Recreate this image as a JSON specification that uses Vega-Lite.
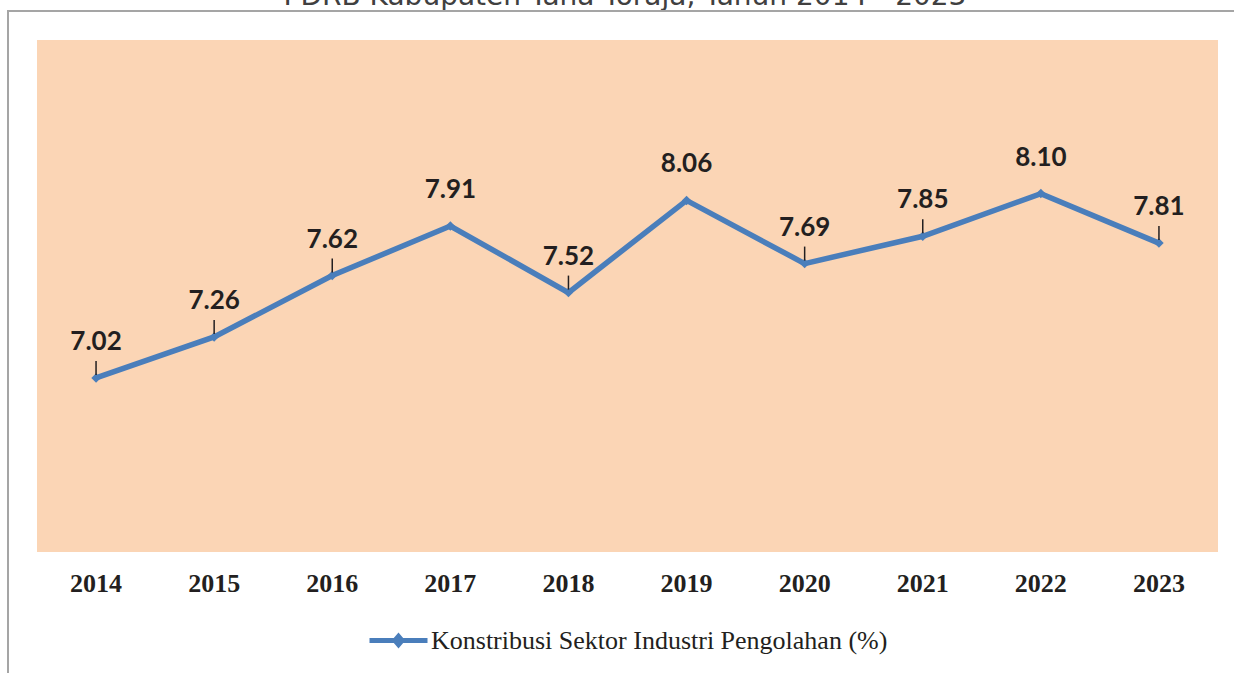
{
  "$schema": "https://vega.github.io/schema/vega-lite/v6.json",
  "width": 1181,
  "height": 512,
  "autosize": {"type": "none"},
  "padding": {"left": 37, "top": 40, "right": 16, "bottom": 121},
  "background": "white",
  "config": {"view": {"fill": "#FBD5B5", "stroke": null}},
  "data": {
    "values": [
      {"year": "2014", "value": 7.02, "series": "Konstribusi Sektor Industri Pengolahan (%)"},
      {"year": "2015", "value": 7.26, "series": "Konstribusi Sektor Industri Pengolahan (%)"},
      {"year": "2016", "value": 7.62, "series": "Konstribusi Sektor Industri Pengolahan (%)"},
      {"year": "2017", "value": 7.91, "series": "Konstribusi Sektor Industri Pengolahan (%)"},
      {"year": "2018", "value": 7.52, "series": "Konstribusi Sektor Industri Pengolahan (%)"},
      {"year": "2019", "value": 8.06, "series": "Konstribusi Sektor Industri Pengolahan (%)"},
      {"year": "2020", "value": 7.69, "series": "Konstribusi Sektor Industri Pengolahan (%)"},
      {"year": "2021", "value": 7.85, "series": "Konstribusi Sektor Industri Pengolahan (%)"},
      {"year": "2022", "value": 8.10, "series": "Konstribusi Sektor Industri Pengolahan (%)"},
      {"year": "2023", "value": 7.81, "series": "Konstribusi Sektor Industri Pengolahan (%)"}
    ]
  },
  "encoding": {
    "x": {
      "field": "year",
      "type": "ordinal",
      "axis": {
        "title": null,
        "labelAngle": 0,
        "domain": false,
        "ticks": false,
        "grid": false,
        "labelPadding": 18,
        "labelFont": "Liberation Serif",
        "labelFontWeight": "bold",
        "labelFontSize": 26,
        "labelColor": "#231F20"
      }
    },
    "y": {
      "field": "value",
      "type": "quantitative",
      "scale": {"domain": [6, 9], "zero": false, "nice": false},
      "axis": null
    }
  },
  "layer": [
    {
      "data": {"values": [{"title": "PDRB Kabupaten Tana Toraja, Tahun 2014 - 2023"}]},
      "mark": {
        "type": "text",
        "font": "DejaVu Sans",
        "fontSize": 28,
        "color": "#404040",
        "align": "center",
        "baseline": "alphabetic",
        "clip": false
      },
      "encoding": {
        "x": {"value": 588},
        "y": {"value": -35},
        "text": {"field": "title", "type": "nominal"}
      }
    },
    {
      "data": {"values": [{}]},
      "mark": {"type": "rule", "stroke": "#A5A5A5", "strokeWidth": 2, "clip": false},
      "encoding": {
        "x": {"value": -29},
        "x2": {"value": 1197},
        "y": {"value": -29}
      }
    },
    {
      "data": {"values": [{}]},
      "mark": {"type": "rule", "stroke": "#A5A5A5", "strokeWidth": 2, "clip": false},
      "encoding": {
        "x": {"value": -29},
        "y": {"value": -30},
        "y2": {"value": 633}
      }
    },
    {
      "mark": {"type": "line", "strokeWidth": 5.5},
      "encoding": {
        "color": {
          "field": "series",
          "type": "nominal",
          "scale": {"range": ["#4A7EBB"]},
          "legend": {
            "title": null,
            "orient": "none",
            "legendX": 330,
            "legendY": 569,
            "symbolType": "M-1,0L1,0M-0.12,0L0,-0.14L0.12,0L0,0.14Z",
            "symbolSize": 3364,
            "symbolStrokeWidth": 5,
            "symbolFillColor": "#4A7EBB",
            "labelFont": "Liberation Serif",
            "labelFontSize": 26,
            "labelColor": "#231F20",
            "labelOffset": 1,
            "labelLimit": 700
          }
        }
      }
    },
    {
      "mark": {"type": "point", "shape": "diamond", "filled": true, "size": 90, "opacity": 1},
      "encoding": {
        "color": {"field": "series", "type": "nominal"}
      }
    },
    {
      "transform": [{"filter": "datum.value < 7.9"}],
      "mark": {"type": "rule", "color": "#231F20", "strokeWidth": 1.5, "yOffset": -3, "y2Offset": -17},
      "encoding": {
        "y2": {"field": "value"}
      }
    },
    {
      "mark": {
        "type": "text",
        "font": "Lato",
        "fontWeight": "bold",
        "fontSize": 26,
        "color": "#231F20",
        "baseline": "alphabetic",
        "dy": -28
      },
      "encoding": {
        "text": {"field": "value", "type": "quantitative", "format": ".2f"}
      }
    }
  ]
}
